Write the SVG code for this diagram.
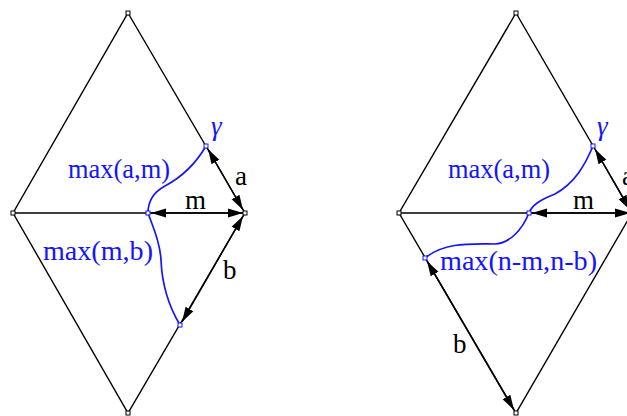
<svg xmlns="http://www.w3.org/2000/svg" width="627" height="416" viewBox="0 0 627 416">
<defs>
<marker id="ah" markerUnits="userSpaceOnUse" markerWidth="16" markerHeight="12" refX="15" refY="5" orient="auto-start-reverse" viewBox="0 0 16 10">
<path d="M0,0.5 L15,5 L0,9.5 Z" fill="#000"/>
</marker>
</defs>
<style>
.edge{fill:none;stroke:#000;stroke-width:1.4}
.curve{fill:none;stroke:#1414ff;stroke-width:1.7}
.dim{fill:none;stroke:#000;stroke-width:1.5;marker-start:url(#ah);marker-end:url(#ah)}
.v{fill:#fff;stroke:#000;stroke-width:1}
.p{fill:#fff;stroke:#1414ff;stroke-width:1}
.t{font-family:"Liberation Serif","DejaVu Serif",serif;font-size:27px}
.bl{fill:#1414ff}
.k{fill:#000}
.g{font-style:italic;font-size:27px}
</style>
<g id="connectors">
<path class="edge" d="M128,13 L245,213 L128,413 L13,213 Z M13,213 L245,213"/>
<path class="edge" d="M516,13 L632,213 L516,413 L399,213 Z M399,213 L632,213"/>
<path class="curve" d="M206,146 C195,165 180,178 165,186 C152,193 148,203 148,213"/>
<path class="curve" d="M148,213 C152,225 160,240 161,260 C162,285 168,305 180,325"/>
<path class="curve" d="M593,146 C585,165 575,183 555,194 C540,200 532,205 529,213"/>
<path class="curve" d="M529,213 C522,230 510,243 495,244 C470,244 445,242 425,258"/>
<line class="dim" x1="208" y1="149" x2="243" y2="210"/>
<line class="dim" x1="151" y1="213" x2="243" y2="213"/>
<line class="dim" x1="243" y1="216" x2="182" y2="322"/>
<line class="dim" x1="595" y1="149" x2="630" y2="210"/>
<line class="dim" x1="532" y1="213" x2="630" y2="213"/>
<line class="dim" x1="427" y1="261" x2="514" y2="410"/>
</g>
<g id="node-left-top"><rect class="v" x="126" y="11" width="4" height="4"/></g>
<g id="node-left-left"><rect class="v" x="11" y="211" width="4" height="4"/></g>
<g id="node-left-right"><rect class="v" x="243" y="211" width="4" height="4"/></g>
<g id="node-left-bottom"><rect class="v" x="126" y="411" width="4" height="4"/></g>
<g id="node-left-center"><rect class="p" x="146" y="211" width="4" height="4"/></g>
<g id="node-left-gamma"><rect class="p" x="204" y="144" width="4" height="4"/></g>
<g id="node-left-lower"><rect class="p" x="178" y="323" width="4" height="4"/></g>
<g id="node-right-top"><rect class="v" x="514" y="11" width="4" height="4"/></g>
<g id="node-right-left"><rect class="v" x="397" y="211" width="4" height="4"/></g>
<g id="node-right-bottom"><rect class="v" x="514" y="411" width="4" height="4"/></g>
<g id="node-right-center"><rect class="p" x="527" y="211" width="4" height="4"/></g>
<g id="node-right-gamma"><rect class="p" x="591" y="144" width="4" height="4"/></g>
<g id="node-right-lower"><rect class="p" x="423" y="256" width="4" height="4"/></g>
<g id="labels">
<text class="t bl g" x="211" y="135">γ</text>
<text class="t bl" x="68" y="178" textLength="102" lengthAdjust="spacingAndGlyphs">max(a,m)</text>
<text class="t bl" x="43" y="260" textLength="110" lengthAdjust="spacingAndGlyphs">max(m,b)</text>
<text class="t k" x="235" y="185">a</text>
<text class="t k" x="185" y="209">m</text>
<text class="t k" x="223" y="279">b</text>
<text class="t bl g" x="597" y="135">γ</text>
<text class="t bl" x="448" y="178" textLength="102" lengthAdjust="spacingAndGlyphs">max(a,m)</text>
<text class="t bl" x="440" y="270" textLength="157" lengthAdjust="spacingAndGlyphs">max(n-m,n-b)</text>
<text class="t k" x="622" y="185">a</text>
<text class="t k" x="573" y="209">m</text>
<text class="t k" x="453" y="353">b</text>
</g>
</svg>
